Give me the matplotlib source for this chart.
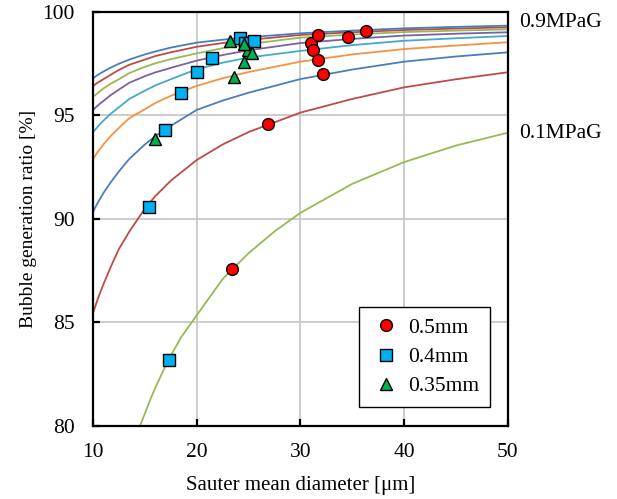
import matplotlib
matplotlib.use("Agg")
import matplotlib.pyplot as plt
from matplotlib.lines import Line2D

plt.rcParams['font.family'] = ['Liberation Serif', 'DejaVu Serif']

# ---- data ----
# model curves, one per pressure (0.2 .. 0.9 MPaG share x points)
curve_x = [10, 10.5, 11, 11.75, 12.5, 13.5, 15, 16, 17.5, 20, 22.5, 25, 30, 35, 40, 45, 50]
curve_02 = [85.46, 86.19, 86.84, 87.73, 88.55, 89.39, 90.5, 91.1, 91.85, 92.85, 93.6, 94.2,
            95.14, 95.8, 96.36, 96.75, 97.09]
curve_03 = [90.35, 90.82, 91.25, 91.8, 92.3, 92.9, 93.6, 94.0, 94.5, 95.27, 95.72, 96.1,
            96.76, 97.22, 97.6, 97.85, 98.05]
curve_04 = [92.9, 93.27, 93.6, 94.03, 94.4, 94.87, 95.3, 95.6, 95.95, 96.43, 96.8, 97.1,
            97.6, 97.95, 98.21, 98.38, 98.54]
curve_05 = [94.2, 94.48, 94.75, 95.1, 95.4, 95.8, 96.2, 96.45, 96.75, 97.23, 97.55, 97.8,
            98.12, 98.4, 98.61, 98.73, 98.84]
curve_06 = [95.27, 95.5, 95.7, 96.0, 96.25, 96.58, 96.9, 97.08, 97.3, 97.65, 97.92, 98.15,
            98.5, 98.7, 98.86, 98.95, 99.02]
curve_07 = [95.9, 96.1, 96.3, 96.55, 96.75, 97.05, 97.35, 97.52, 97.72, 98.0, 98.25, 98.45,
            98.76, 98.91, 99.03, 99.1, 99.16]
curve_08 = [96.43, 96.6, 96.75, 96.98, 97.2, 97.45, 97.7, 97.87, 98.05, 98.32, 98.5, 98.65,
            98.89, 99.02, 99.13, 99.2, 99.26]
curve_09 = [96.8, 96.97, 97.12, 97.32, 97.5, 97.7, 97.95, 98.09, 98.28, 98.52, 98.66, 98.78,
            98.97, 99.1, 99.21, 99.28, 99.34]
curve_01_x = [14.2, 14.6, 15, 15.5, 16, 16.75, 17.5, 18.5, 20, 22.5, 25, 27.5, 30, 35, 40, 45, 50]
curve_01 = [79.54, 80.1, 80.6, 81.25, 81.84, 82.65, 83.4, 84.29, 85.35, 87.1, 88.35, 89.4,
            90.3, 91.7, 92.75, 93.55, 94.17]

# measured points per nozzle size
d_05 = [23.43, 26.9, 31.0, 31.2, 31.65, 32.2, 31.72, 34.6, 36.3]
r_05 = [87.58, 94.6, 98.5, 98.15, 97.7, 97.0, 98.89, 98.8, 99.1]
d_04 = [17.33, 15.37, 16.94, 18.45, 19.99, 21.44, 24.15, 24.7, 25.55]
r_04 = [83.19, 90.57, 94.3, 96.07, 97.12, 97.76, 98.75, 98.5, 98.62]
d_035 = [15.95, 23.6, 24.6, 24.97, 25.3, 23.2, 24.6]
r_035 = [93.85, 96.87, 97.6, 98.16, 98.0, 98.6, 98.45]

fig = plt.figure(figsize=(6.17, 4.99), dpi=100)
ax = fig.add_axes([0.1507, 0.1463, 0.6726, 0.8297])

blue = '#4A7EBB'
red = '#BE4B48'
green = '#98B954'
purple = '#7D60A0'
teal = '#46AAC5'
orange = '#F69240'

lw = 1.3
ax.plot(curve_01_x, curve_01, color=green, lw=lw, zorder=2)
ax.plot(curve_x, curve_02, color=red, lw=lw, zorder=2)
ax.plot(curve_x, curve_03, color=blue, lw=lw, zorder=2)
ax.plot(curve_x, curve_04, color=orange, lw=lw, zorder=2)
ax.plot(curve_x, curve_05, color=teal, lw=lw, zorder=2)
ax.plot(curve_x, curve_06, color=purple, lw=lw, zorder=2)
ax.plot(curve_x, curve_07, color=green, lw=lw, zorder=2)
ax.plot(curve_x, curve_08, color=red, lw=lw, zorder=2)
ax.plot(curve_x, curve_09, color=blue, lw=lw, zorder=2)

ms = 8.5
ax.plot(d_05, r_05, 'o', ms=ms, mfc='#FF0000', mec='black', mew=1.0, zorder=4)
ax.plot(d_04, r_04, 's', ms=ms - 0.5, mfc='#00B0F0', mec='black', mew=1.0, zorder=3)
ax.plot(d_035, r_035, '^', ms=ms, mfc='#00B050', mec='black', mew=1.0, zorder=3)

ax.set_xlim(10, 50)
ax.set_ylim(80, 100)
ax.set_xticks([10, 20, 30, 40, 50])
ax.set_yticks([80, 85, 90, 95, 100])
ax.grid(True, color='#C8C8C8', lw=1.3)
ax.set_axisbelow(True)
for s in ax.spines.values():
    s.set_linewidth(1.6)
    s.set_color('black')
ax.tick_params(direction='in', length=5, width=1.6, labelsize=15.5)
ax.tick_params(axis='x', pad=12)
ax.tick_params(axis='y', pad=13)

ax.set_xlabel('Sauter mean diameter [μm]', fontsize=15, labelpad=10)
ax.set_ylabel('Bubble generation ratio [%]', fontsize=14, labelpad=4)

ax.text(51.1, 99.5, '0.9MPaG', fontsize=15.5, va='center', ha='left', clip_on=False)
ax.text(51.1, 94.15, '0.1MPaG', fontsize=15.5, va='center', ha='left', clip_on=False)

handles = [
    Line2D([], [], ls='none', marker='o', ms=ms, mfc='#FF0000', mec='black', mew=1.0),
    Line2D([], [], ls='none', marker='s', ms=ms - 0.5, mfc='#00B0F0', mec='black', mew=1.0),
    Line2D([], [], ls='none', marker='^', ms=ms, mfc='#00B050', mec='black', mew=1.0),
]
leg = ax.legend(handles, ['0.5mm', '0.4mm', '0.35mm'], loc='lower right',
                bbox_to_anchor=(0.956, 0.046), fontsize=15.5, frameon=True,
                fancybox=False, edgecolor='black', framealpha=1,
                handlelength=1.5, handletextpad=0.25, labelspacing=0.42,
                borderpad=0.5, borderaxespad=0)
leg.get_frame().set_linewidth(1.0)

fig.savefig('out.png', dpi=100)
